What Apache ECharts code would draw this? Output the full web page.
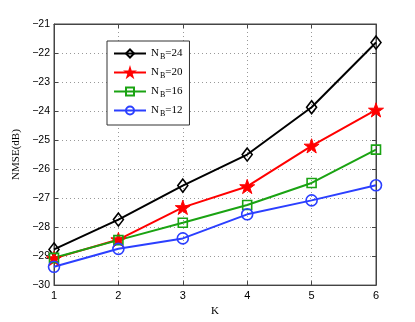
<!DOCTYPE html>
<html>
<head>
<meta charset="utf-8">
<script src="https://cdn.jsdelivr.net/npm/echarts@6/dist/echarts.min.js"></script>
<style>
  html, body { margin: 0; padding: 0; background: #fff; }
  #chart { width: 415px; height: 322px; }
</style>
</head>
<body>
<div id="chart"></div>
<script>
const kValues = [1, 2, 3, 4, 5, 6]
const seriesNames = ['NB=24', 'NB=20', 'NB=16', 'NB=12']
const nb24 = [-28.77, -27.74, -26.57, -25.50, -23.87, -21.64]
const nb20 = [-29.08, -28.43, -27.32, -26.60, -25.20, -23.96]
const nb16 = [-29.06, -28.45, -27.85, -27.24, -26.48, -25.33]
const nb12 = [-29.37, -28.75, -28.39, -27.56, -27.08, -26.56]

const starPath = 'path://M100,0L122.45,69.1L195.1,69.1L136.3,111.8L158.8,180.9L100,138.2L41.2,180.9L63.7,111.8L4.9,69.1L77.55,69.1Z'
const axisColor = '#444'
const minus = v => String(v).replace('-', '\u2212')

function pairs (ys) {
  return kValues.map((k, i) => [k, ys[i]])
}

function makeSeries (name, data, color, symbol, size, filled) {
  return {
    name: name,
    type: 'line',
    data: pairs(data),
    symbol: symbol,
    // function so the legend falls back to its own small icon size
    symbolSize: () => size,
    symbolKeepAspect: true,
    showAllSymbol: true,
    lineStyle: { color: color, width: 2 },
    itemStyle: filled
      ? { color: color, borderColor: color, borderWidth: 1 }
      : { color: 'rgba(0,0,0,0)', borderColor: color, borderWidth: 1.6 },
    emphasis: { disabled: true },
    z: 3
  }
}

let chart = echarts.init(document.getElementById('chart'))
let option = {
  animation: false,
  grid: {
    left: 54,
    right: 39,
    top: 24,
    bottom: 36,
    show: true,
    borderColor: axisColor,
    borderWidth: 1
  },
  legend: {
    orient: 'vertical',
    left: 107,
    top: 41,
    padding: [7, 7, 7, 6],
    itemGap: 6,
    itemWidth: 32,
    itemHeight: 10,
    backgroundColor: '#fff',
    borderColor: '#333',
    borderWidth: 1,
    borderRadius: 0,
    data: seriesNames,
    formatter: name => '{n|N}{s|B}{n|' + name.slice(2) + '}',
    textStyle: {
      fontFamily: 'Liberation Serif',
      color: '#000',
      rich: {
        n: { fontFamily: 'Liberation Serif', fontSize: 11, color: '#000' },
        s: { fontFamily: 'Liberation Serif', fontSize: 8, color: '#000', padding: [7, 0, 0, 1] }
      }
    }
  },
  xAxis: [
    {
      type: 'value',
      min: 1,
      max: 6,
      interval: 1,
      name: 'K',
      nameLocation: 'middle',
      nameGap: 19,
      nameTextStyle: { fontFamily: 'Liberation Serif', fontSize: 11, color: '#000' },
      axisLine: { show: true, lineStyle: { color: axisColor, width: 1 } },
      axisTick: { show: true, inside: true, length: 4, lineStyle: { color: axisColor } },
      axisLabel: { fontFamily: 'Liberation Sans', fontSize: 11, color: '#000', margin: 5 },
      splitLine: { show: true, lineStyle: { color: '#999', type: [1, 3], width: 1 } }
    },
    {
      type: 'value',
      position: 'top',
      min: 1,
      max: 6,
      interval: 1,
      axisLine: { show: true, lineStyle: { color: axisColor, width: 1 } },
      axisTick: { show: true, inside: true, length: 4, lineStyle: { color: axisColor } },
      axisLabel: { show: false },
      splitLine: { show: false }
    }
  ],
  yAxis: [
    {
      type: 'value',
      min: -30,
      max: -21,
      interval: 1,
      name: 'NMSE(dB)',
      nameLocation: 'middle',
      nameGap: 21,
      nameRotate: 90,
      nameTextStyle: { fontFamily: 'Liberation Serif', fontSize: 11, color: '#000' },
      axisLine: { show: true, lineStyle: { color: axisColor, width: 1 } },
      axisTick: { show: true, inside: true, length: 4, lineStyle: { color: axisColor } },
      axisLabel: { fontFamily: 'Liberation Sans', fontSize: 10.5, color: '#000', margin: 4, formatter: minus },
      splitLine: { show: true, lineStyle: { color: '#999', type: [1, 3], width: 1 } }
    },
    {
      type: 'value',
      position: 'right',
      min: -30,
      max: -21,
      interval: 1,
      axisLine: { show: true, lineStyle: { color: axisColor, width: 1 } },
      axisTick: { show: true, inside: true, length: 4, lineStyle: { color: axisColor } },
      axisLabel: { show: false },
      splitLine: { show: false }
    }
  ],
  series: [
    makeSeries(seriesNames[0], nb24, '#000000', 'diamond', [10, 13], false),
    makeSeries(seriesNames[1], nb20, '#ff0000', starPath, 15, true),
    makeSeries(seriesNames[2], nb16, '#1aa312', 'rect', 9, false),
    makeSeries(seriesNames[3], nb12, '#2b3fff', 'circle', 11, false)
  ]
}
chart.setOption(option)
</script>
</body>
</html>
